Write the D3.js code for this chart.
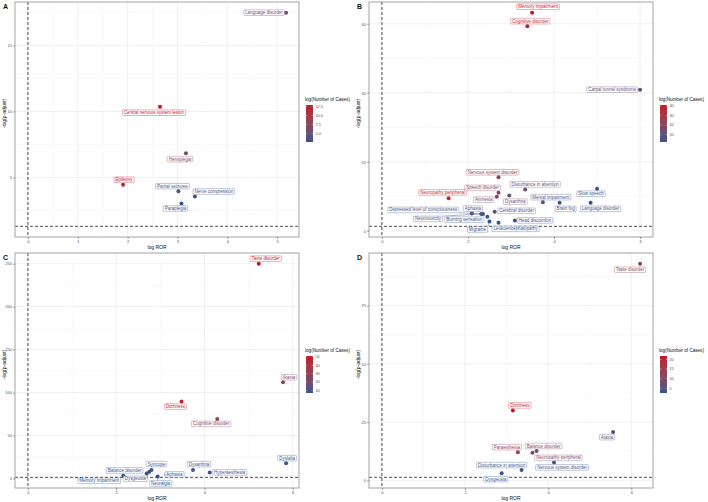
<!DOCTYPE html>
<html lang="en">
<head>
  <meta charset="UTF-8">
  <title>Volcano panels</title>
  <script src="https://d3js.org/d3.v7.min.js"></script>
  <style>
    body { margin: 0; background: #fff; }
    text { font-family: "Liberation Sans", Arial, sans-serif; }
  </style>
</head>
<body>
  <svg id="chart" width="708" height="502"></svg>

  <script>
    // ---- panel A
    const termsA = ["Language disorder", "Central nervous system lesion", "Hemiplegia", "Epilepsy",
      "Partial seizures", "Nerve compression", "Paraplegia"];
    const rorA = [5.18, 2.65, 3.17, 1.91, 3.02, 3.35, 3.08];
    const padjA = [17.48, 10.36, 6.84, 4.45, 3.96, 3.56, 3.03];
    const casesA = [5.6, 12.9, 7.0, 12.2, 3.3, 3.0, 2.7];

    // ---- panel B
    const termsB = ["Memory impairment", "Cognitive disorder", "Carpal tunnel syndrome", "Nervous system disorder",
      "Disturbance in attention", "Slow speech", "Speech disorder", "Dysarthria", "Amnesia",
      "Neuropathy peripheral", "Mental impairment", "Brain fog", "Language disorder", "Cerebral disorder",
      "Aphasia", "Depressed level of consciousness", "Neurotoxicity", "Burning sensation", "Migraine",
      "Leukoencephalopathy", "Head discomfort"];
    const rorB = [3.49, 3.38, 6.0, 2.71, 3.33, 5.0, 2.71, 2.96, 2.67, 1.55, 3.74, 4.13, 4.85, 2.62,
      2.09, 2.31, 2.35, 2.45, 2.50, 2.71, 3.09];
    const padjB = [63.2, 59.3, 40.9, 15.5, 12.0, 12.2, 11.0, 10.2, 9.9, 9.4, 8.3, 8.1, 8.1, 5.5,
      5.0, 4.9, 4.9, 4.1, 2.7, 2.3, 3.0];
    const casesB = [41, 39, 10, 25, 12, 3, 18, 12, 17, 37, 5, 4, 3, 8, 6, 5, 5, 3, 2, 2, 2];

    // ---- panel C
    const termsC = ["Taste disorder", "Ataxia", "Dizziness", "Cognitive disorder", "Dyslalia", "Dysarthria",
      "Hyperaesthesia", "Syncope", "Balance disorder", "Dysgeusia", "Aphasia", "Neuralgia", "Memory impairment"];
    const rorC = [5.23, 5.78, 3.48, 4.29, 5.85, 3.74, 4.12, 2.80, 2.69, 2.75, 3.14, 2.94, 2.16];
    const padjC = [250, 112, 89.5, 69.3, 17.8, 9.7, 7.0, 9.7, 5.8, 7.7, 4.7, 2.3, 3.0];
    const casesC = [51, 24, 48, 29, 9, 9, 8, 9, 8, 8, 8, 7, 7];

    // ---- panel D
    const termsD = ["Taste disorder", "Dizziness", "Ataxia", "Paraesthesia", "Balance disorder",
      "Neuropathy peripheral", "Nervous system disorder", "Disturbance in attention", "Dysgeusia"];
    const rorD = [6.21, 3.15, 5.56, 3.27, 3.72, 3.62, 4.14, 3.36, 2.88];
    const padjD = [93, 30, 20.7, 12.1, 12.6, 11.8, 7.7, 4.4, 3.1];
    const casesD = [11, 21.7, 5, 12, 10, 9, 4, 3, 2.6];

    // label nudges (px from point to label centre), stand-in for ggrepel
    const nudgeA = [[-22, 0], [-6, 6], [-6, 6], [1, -5], [-6, -5], [19, -5], [-6, 5]];
    const nudgeB = [[6, -6], [3, -5], [-28, 0], [-6, -5], [10, -5], [-6, 5], [-16, -5], [6, 6], [-13, 3],
      [-6, -6], [8, -5], [6, 6], [10, 6], [22, -1], [1, -5], [-58, -4], [-55, 5], [-23, 3], [-12, 8],
      [17, 6], [20, 0]];
    const nudgeC = [[7, -5], [6, -5], [-6, 5], [-6, 5], [1, -5], [6, -6], [20, 0], [5, -6], [-22, -3],
      [-14, 7], [8, 0], [3, 7], [-24, 5]];
    const nudgeD = [[-10, 6], [7, -5], [-6, 5], [-11, -5], [7, -5], [26, 5], [8, 5], [-20, -5], [-6, 6]];

    const pCut = -Math.log10(0.05);
    const lowCol = "#33558c", highCol = "#c3162a";

    const panels = [
      { tag: "A", terms: termsA, ror: rorA, padj: padjA, cases: casesA, nudge: nudgeA, ox: 0, oy: 0,
        xTicks: [0, 1, 2, 3, 4, 5], yTicks: [5, 10, 15], legTicks: [5, 7.5, 10, 12.5], legFmt: ".1f" },
      { tag: "B", terms: termsB, ror: rorB, padj: padjB, cases: casesB, nudge: nudgeB, ox: 354, oy: 0,
        xTicks: [0, 2, 4, 6], yTicks: [0, 20, 40, 60], legTicks: [10, 20, 30, 40], legFmt: "d" },
      { tag: "C", terms: termsC, ror: rorC, padj: padjC, cases: casesC, nudge: nudgeC, ox: 0, oy: 251,
        xTicks: [0, 2, 4, 6], yTicks: [0, 50, 100, 150, 200, 250], legTicks: [10, 20, 30, 40, 50], legFmt: "d" },
      { tag: "D", terms: termsD, ror: rorD, padj: padjD, cases: casesD, nudge: nudgeD, ox: 354, oy: 251,
        xTicks: [0, 2, 4, 6], yTicks: [0, 25, 50, 75], legTicks: [5, 10, 15, 20], legFmt: "d" }
    ];

    const svg = d3.select("#chart");
    const defs = svg.append("defs");

    // ggplot-like 5% expansion
    function expand(vals) {
      const lo = d3.min(vals), hi = d3.max(vals), d = (hi - lo) * 0.05;
      return [lo - d, hi + d];
    }

    function minors(ticks, domain) {
      const step = ticks[1] - ticks[0];
      return d3.range(ticks[0] - step / 2, ticks[ticks.length - 1] + step, step)
        .filter(v => v > domain[0] && v < domain[1]);
    }

    function drawPanel(p, idx) {
      const left = 15, right = 299, top = 2, bottom = 237;
      const g = svg.append("g").attr("transform", `translate(${p.ox},${p.oy})`);

      const x = d3.scaleLinear().domain(expand([0, ...p.ror])).range([left, right]);
      const y = d3.scaleLinear().domain(expand([pCut, ...p.padj])).range([bottom, top]);
      const color = d3.scaleLinear().domain(d3.extent(p.cases)).range([lowCol, highCol])
        .interpolate(d3.interpolateLab);

      // grid
      const grid = g.append("g");
      grid.selectAll(".mx").data(minors(p.xTicks, x.domain())).join("line")
        .attr("x1", d => x(d)).attr("x2", d => x(d)).attr("y1", top).attr("y2", bottom)
        .attr("stroke", "#f2f2f2").attr("stroke-width", 0.4);
      grid.selectAll(".my").data(minors(p.yTicks, y.domain())).join("line")
        .attr("y1", d => y(d)).attr("y2", d => y(d)).attr("x1", left).attr("x2", right)
        .attr("stroke", "#f2f2f2").attr("stroke-width", 0.4);
      grid.selectAll(".gx").data(p.xTicks).join("line")
        .attr("x1", d => x(d)).attr("x2", d => x(d)).attr("y1", top).attr("y2", bottom)
        .attr("stroke", "#e6e6e6").attr("stroke-width", 0.6);
      grid.selectAll(".gy").data(p.yTicks).join("line")
        .attr("y1", d => y(d)).attr("y2", d => y(d)).attr("x1", left).attr("x2", right)
        .attr("stroke", "#e6e6e6").attr("stroke-width", 0.6);

      // cut-off lines
      g.append("line").attr("x1", x(0)).attr("x2", x(0)).attr("y1", top).attr("y2", bottom)
        .attr("stroke", "#222").attr("stroke-width", 0.8).attr("stroke-dasharray", "3,2");
      g.append("line").attr("x1", left).attr("x2", right).attr("y1", y(pCut)).attr("y2", y(pCut))
        .attr("stroke", "#222").attr("stroke-width", 0.8).attr("stroke-dasharray", "3,2");

      // border
      g.append("rect").attr("x", left).attr("y", top).attr("width", right - left).attr("height", bottom - top)
        .attr("fill", "none").attr("stroke", "#9a9a9a").attr("stroke-width", 0.9);

      // axes
      const xAxis = g.append("g").attr("transform", `translate(0,${bottom})`)
        .call(d3.axisBottom(x).tickValues(p.xTicks).tickSize(2).tickPadding(1).tickFormat(d3.format("d")));
      const yAxis = g.append("g").attr("transform", `translate(${left},0)`)
        .call(d3.axisLeft(y).tickValues(p.yTicks).tickSize(2).tickPadding(1).tickFormat(d3.format("d")));
      [xAxis, yAxis].forEach(a => {
        a.select(".domain").remove();
        a.selectAll(".tick line").attr("stroke", "#444").attr("stroke-width", 0.5);
        a.selectAll(".tick text").attr("font-size", 4).attr("fill", "#4d4d4d")
          .style("font-family", '"Liberation Sans", Arial, sans-serif');
      });

      g.append("text").attr("x", (left + right) / 2).attr("y", 248.5).attr("text-anchor", "middle")
        .attr("font-size", 5).attr("fill", "#111").text("log ROR");
      g.append("text").attr("transform", `translate(5.5,${(top + bottom) / 2 - 6}) rotate(-90)`)
        .attr("text-anchor", "middle").attr("font-size", 5).attr("fill", "#111").text("-log(p-adjust)");
      g.append("text").attr("x", 3).attr("y", 9).attr("font-size", 7).attr("font-weight", "bold")
        .attr("fill", "#111").text(p.tag);

      // points
      const rows = p.terms.map((t, i) => ({
        term: t, px: x(p.ror[i]), py: y(p.padj[i]), c: color(p.cases[i]), n: p.nudge[i]
      }));

      const segs = g.append("g");
      g.append("g").selectAll("circle").data(rows).join("circle")
        .attr("cx", d => d.px).attr("cy", d => d.py).attr("r", 2)
        .attr("fill", d => d.c);

      // labels
      const lab = g.append("g").selectAll("g").data(rows).join("g")
        .attr("transform", d => `translate(${d.px + d.n[0]},${d.py + d.n[1]})`);
      const rect = lab.append("rect");
      const txt = lab.append("text").attr("text-anchor", "middle").attr("dy", "0.35em")
        .attr("font-size", 4.5).attr("fill", d => d.c).text(d => d.term);
      txt.each(function (d) { d.w = this.getComputedTextLength() + 3; d.h = 5.6; });
      rect.attr("x", d => -d.w / 2).attr("y", d => -d.h / 2).attr("width", d => d.w).attr("height", d => d.h)
        .attr("rx", 0.8).attr("fill", "#fff").attr("fill-opacity", 0.9)
        .attr("stroke", d => d.c).attr("stroke-opacity", 0.75).attr("stroke-width", 0.45);

      // repel-style segments for labels sitting away from their point
      rows.forEach(d => {
        const cx = d.px + d.n[0], cy = d.py + d.n[1];
        const ex = Math.max(cx - d.w / 2, Math.min(d.px, cx + d.w / 2));
        const ey = Math.max(cy - d.h / 2, Math.min(d.py, cy + d.h / 2));
        if (Math.hypot(ex - d.px, ey - d.py) > 4) {
          segs.append("line").attr("x1", d.px).attr("y1", d.py).attr("x2", ex).attr("y2", ey)
            .attr("stroke", d.c).attr("stroke-width", 0.45);
        }
      });

      // colour legend
      const gid = "grad" + idx;
      const grad = defs.append("linearGradient").attr("id", gid)
        .attr("x1", 0).attr("y1", 1).attr("x2", 0).attr("y2", 0);
      d3.range(0, 1.01, 0.1).forEach(t => {
        grad.append("stop").attr("offset", t)
          .attr("stop-color", d3.interpolateLab(lowCol, highCol)(t));
      });
      const legTop = 105, legBot = 142, legX = 306;
      g.append("text").attr("x", 305).attr("y", 101).attr("font-size", 4.6).attr("fill", "#111")
        .text("log(Number of Cases)");
      g.append("rect").attr("x", legX).attr("y", legTop).attr("width", 7).attr("height", legBot - legTop)
        .attr("fill", `url(#${gid})`);
      const ly = d3.scaleLinear().domain(color.domain()).range([legBot, legTop]);
      const lt = g.append("g").selectAll("g").data(p.legTicks).join("g");
      lt.append("line").attr("x1", legX).attr("x2", legX + 1.4).attr("y1", d => ly(d)).attr("y2", d => ly(d))
        .attr("stroke", "#fff").attr("stroke-width", 0.4);
      lt.append("line").attr("x1", legX + 5.6).attr("x2", legX + 7).attr("y1", d => ly(d)).attr("y2", d => ly(d))
        .attr("stroke", "#fff").attr("stroke-width", 0.4);
      lt.append("text").attr("x", legX + 9.5).attr("y", d => ly(d)).attr("dy", "0.35em")
        .attr("font-size", 3.8).attr("fill", "#4d4d4d").text(d => d3.format(p.legFmt)(d));
    }

    panels.forEach(drawPanel);
  </script>
</body>
</html>
